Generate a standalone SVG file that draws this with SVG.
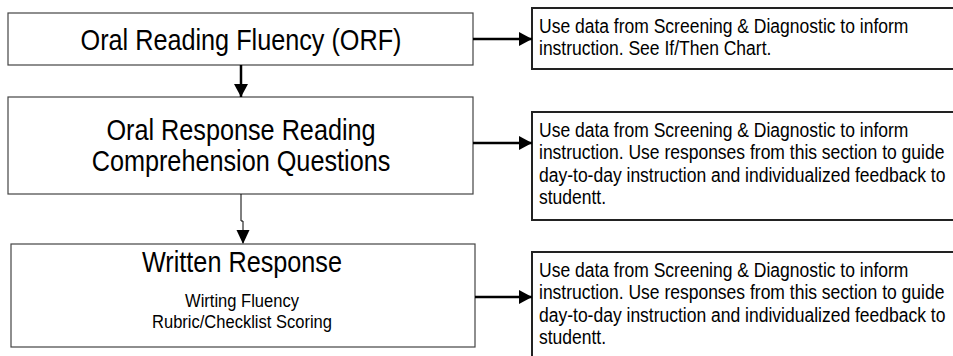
<svg xmlns="http://www.w3.org/2000/svg" width="953" height="356" viewBox="0 0 953 356">
<style>
.box{fill:#fff;stroke:#444;stroke-width:1.2}
.note{fill:#fff;stroke:#222;stroke-width:2}
.big{font-family:"Liberation Sans",Arial,sans-serif;font-size:29px;fill:#000;text-anchor:middle}
.small{font-family:"Liberation Sans",Arial,sans-serif;font-size:19px;fill:#000;text-anchor:middle}
.txt{font-family:"Liberation Sans",Arial,sans-serif;font-size:20px;fill:#000}
.thick{stroke:#000;stroke-width:2.5;fill:none}
.thin{stroke:#000;stroke-width:1;fill:none}
</style>
<defs>
<marker id="ah" markerUnits="userSpaceOnUse" markerWidth="14" markerHeight="14" refX="13" refY="7" orient="auto">
<path d="M0,0 L13,7 L0,14 Z" fill="#000"/>
</marker>
</defs>
<rect width="953" height="356" fill="#fff"/>
<g id="orf">
<rect class="box" x="8" y="13" width="465" height="52"/>
<g transform="translate(241,0) scale(0.87,1)"><text class="big" x="0" y="50">Oral Reading Fluency (ORF)</text></g>
</g>
<g id="orrc">
<rect class="box" x="8" y="97" width="465" height="97"/>
<g transform="translate(241,0) scale(0.87,1)">
<text class="big" x="0" y="140.5">Oral Response Reading</text>
<text class="big" x="0" y="171.5">Comprehension Questions</text>
</g>
</g>
<g id="written">
<rect class="box" x="11" y="244" width="464" height="103"/>
<g transform="translate(242,0) scale(0.87,1)">
<text class="big" x="0" y="272">Written Response</text>
<text class="small" x="0" y="307">Wirting Fluency</text>
<text class="small" x="0" y="328">Rubric/Checklist Scoring</text>
</g>
</g>
<g id="note1">
<rect class="note" x="532" y="8" width="440" height="61"/>
<g transform="translate(539,0) scale(0.875,1)">
<text class="txt" x="0" y="33.5">Use data from Screening &amp; Diagnostic to inform</text>
<text class="txt" x="0" y="55.5">instruction. See If/Then Chart.</text>
</g>
</g>
<g id="note2">
<rect class="note" x="532" y="112" width="440" height="108"/>
<g transform="translate(539,0) scale(0.875,1)">
<text class="txt" x="0" y="137">Use data from Screening &amp; Diagnostic to inform</text>
<text class="txt" x="0" y="159.3">instruction. Use responses from this section to guide</text>
<text class="txt" x="0" y="181.6">day-to-day instruction and individualized feedback to</text>
<text class="txt" x="0" y="203.9">studentt.</text>
</g>
</g>
<g id="note3">
<rect class="note" x="532" y="252" width="440" height="130"/>
<g transform="translate(539,0) scale(0.875,1)">
<text class="txt" x="0" y="277">Use data from Screening &amp; Diagnostic to inform</text>
<text class="txt" x="0" y="299.3">instruction. Use responses from this section to guide</text>
<text class="txt" x="0" y="321.6">day-to-day instruction and individualized feedback to</text>
<text class="txt" x="0" y="343.9">studentt.</text>
</g>
</g>
<g id="connectors">
<line class="thick" x1="473" y1="39" x2="532" y2="39" marker-end="url(#ah)"/>
<line class="thick" x1="473" y1="143" x2="532" y2="143" marker-end="url(#ah)"/>
<line class="thick" x1="475" y1="297" x2="532" y2="297" marker-end="url(#ah)"/>
<line class="thick" x1="241" y1="65" x2="241" y2="97" marker-end="url(#ah)"/>
<polyline class="thin" points="241,194 241,221 243,221 243,243"/>
<path d="M236.5,230 L249.5,230 L243,244 Z" fill="#000"/>
</g>
</svg>
